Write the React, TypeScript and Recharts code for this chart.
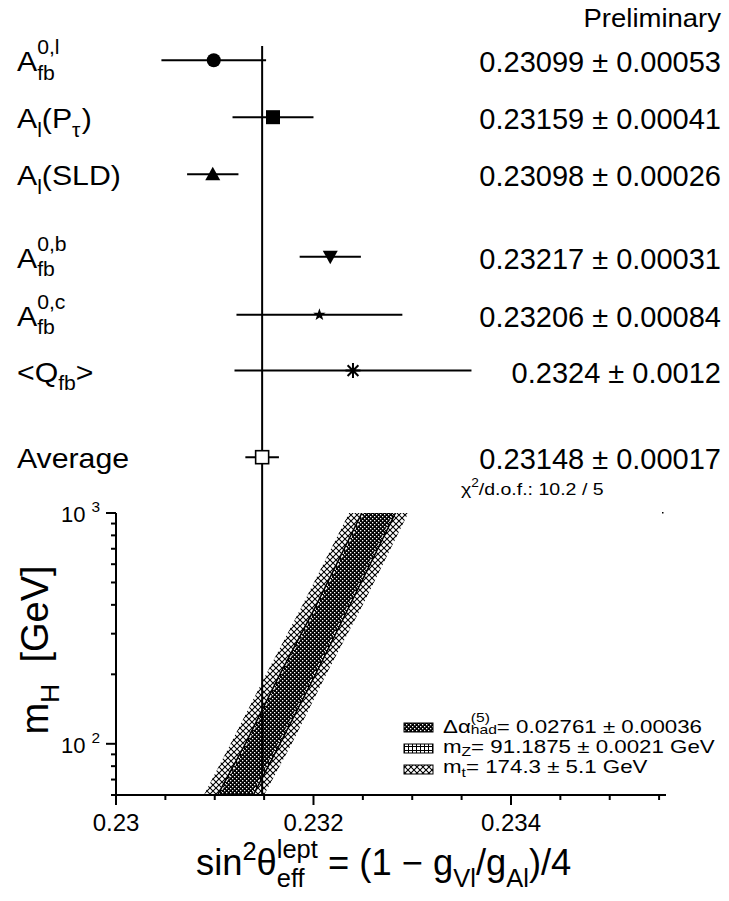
import React from 'react';
import { ComposedChart, Scatter, ErrorBar, XAxis, YAxis, ReferenceLine, Area } from 'recharts';

const FONT = '"Liberation Sans", Arial, Helvetica, sans-serif';
type Tok = [string, string, number?];

// ---------- measurements (upper panel) ----------
const measValues = [0.23099, 0.23159, 0.23098, 0.23217, 0.23206, 0.2324, 0.23148];
const measErrors = [0.00053, 0.00041, 0.00026, 0.00031, 0.00084, 0.0012, 0.00017];
const measValueTexts = [
  '0.23099 ± 0.00053',
  '0.23159 ± 0.00041',
  '0.23098 ± 0.00026',
  '0.23217 ± 0.00031',
  '0.23206 ± 0.00084',
  '0.2324 ± 0.0012',
  '0.23148 ± 0.00017',
];
const measRows = [1, 2, 3, 4.45, 5.47, 6.45, 7.97];
const measMarkers = ['circle', 'square', 'triangle', 'triangleDown', 'star', 'asterisk', 'openSquare'];
const measLabels: Tok[][] = [
  [['A', 'n'], ['fb', 'sub'], ['0,l', 'supStack']],
  [['A', 'n'], ['l', 'sub'], ['(P', 'n'], ['τ', 'sub'], [')', 'n']],
  [['A', 'n'], ['l', 'sub'], ['(SLD)', 'n']],
  [['A', 'n'], ['fb', 'sub'], ['0,b', 'supStack']],
  [['A', 'n'], ['fb', 'sub'], ['0,c', 'supStack']],
  [['<Q', 'n'], ['fb', 'sub'], ['>', 'n']],
  [['Average', 'n']],
];
const averageValue = 0.23148;
const chi2Tokens: Tok[] = [['χ', 'n'], ['2', 'sup', -0.45], ['/d.o.f.: 10.2 / 5', 'n']];
const prelimText = 'Preliminary';

// ---------- SM prediction bands (lower panel) ----------
const bandMH = [60, 100, 200, 400, 1000];
const mtLow = [0.23089, 0.23116, 0.23152, 0.23189, 0.23236];
const mtHigh = [0.2315, 0.23178, 0.23213, 0.2325, 0.23296];
const mzLow = [0.23103, 0.23131, 0.23166, 0.23203, 0.23249];
const mzHigh = [0.23139, 0.23166, 0.23202, 0.23237, 0.23283];
const daLow = [0.23105, 0.23133, 0.23168, 0.23205, 0.23251];
const daHigh = [0.23137, 0.23164, 0.232, 0.23235, 0.23281];

const legendTokens: Tok[][] = [
  [['Δα', 'n'], ['(5)', 'sup', -0.6], ['had', 'subStack', 0.08], ['= 0.02761 ± 0.00036', 'n']],
  [['m', 'n'], ['Z', 'sub', 0.15], ['= 91.1875 ± 0.0021 GeV', 'n']],
  [['m', 'n'], ['t', 'sub', 0.2], ['= 174.3 ± 5.1 GeV', 'n']],
];
const legendFills = ['url(#patDa)', 'url(#patMz)', 'url(#patMt)'];

// ---------- axes ----------
const X_DOMAIN: [number, number] = [0.23, 0.23557];
const xTickValues = [0.23, 0.2305, 0.231, 0.2315, 0.232, 0.2325, 0.233, 0.2335, 0.234, 0.2345, 0.235, 0.2355];
const xLabelValues = [0.23, 0.232, 0.234];
const xLabelTexts = ['0.23', '0.232', '0.234'];
const yTickValues = [60, 70, 80, 90, 100, 200, 300, 400, 500, 600, 700, 800, 900, 1000];
const yLabelValues = [100, 1000];
const yLabelTokens: Tok[][] = [
  [['10 ', 'n'], ['2', 'sup', -0.45]],
  [['10 ', 'n'], ['3', 'sup', -0.45]],
];
const xTitleTokens: Tok[] = [
  ['sin', 'n'], ['2', 'sup', -0.42], ['θ', 'n'], ['eff', 'sub', 0.32], ['lept', 'supStack', -0.47],
  [' = (1 − g', 'n'], ['Vl', 'sub', 0.32], ['/g', 'n'], ['Al', 'sub', 0.32], [')/4', 'n'],
];
const yTitleTokens: Tok[] = [['m', 'n'], ['H', 'sub', 0.3], ['  [GeV]', 'n']];

// ---------- layout constants ----------
const PLOT_LEFT = 116;
const RIGHT_MARGIN = 63;
const UPPER_TOP_LINE = 46;
const SPLIT_Y = 513;
const LOWER_TOP = 470;
const AXIS_Y = 795;

const CW: Record<string, number> = {
  A: 0.667, D: 0.722, G: 0.778, L: 0.556, P: 0.667, Q: 0.778, S: 0.667, V: 0.667, Z: 0.611, H: 0.722,
  a: 0.556, b: 0.556, c: 0.5, d: 0.556, e: 0.556, f: 0.278, g: 0.556, h: 0.556, i: 0.222, l: 0.222,
  m: 0.833, n: 0.556, o: 0.556, p: 0.556, r: 0.333, s: 0.5, t: 0.278, v: 0.5, y: 0.5,
  ' ': 0.278, '.': 0.278, ',': 0.278, ':': 0.278, '/': 0.278, '(': 0.333, ')': 0.333, '[': 0.278, ']': 0.278,
  '=': 0.584, '±': 0.584, '−': 0.584, '<': 0.584, '>': 0.584,
  'τ': 0.45, 'θ': 0.556, 'χ': 0.52, 'Δ': 0.668, 'α': 0.578,
};
const tw = (s: string) => Array.from(s).reduce((a, c) => a + (CW[c] ?? 0.556), 0);

function RichText({ x, y, size, tokens, anchor = 'start', sx = 1, rotate = 0, scr = 0.7 }: {
  x: number; y: number; size: number; tokens: Tok[]; anchor?: string; sx?: number; rotate?: number; scr?: number;
}) {
  let cx = 0;
  let prevStart = 0;
  const items: { t: string; x: number; y: number; fs: number }[] = [];
  for (const [t, k, d] of tokens) {
    const fs = k === 'n' ? size : size * scr;
    const w = tw(t) * fs;
    const stack = k === 'supStack' || k === 'subStack';
    const x0 = stack ? prevStart : cx;
    const dy = d !== undefined ? d * size : k.startsWith('sub') ? 0.3 * size : k.startsWith('sup') ? -0.6 * size : 0;
    items.push({ t, x: x0, y: dy, fs });
    if (stack) cx = Math.max(cx, x0 + w);
    else {
      prevStart = x0;
      cx = x0 + w;
    }
  }
  const single = tokens.length === 1;
  const off = single ? 0 : anchor === 'end' ? -cx : anchor === 'middle' ? -cx / 2 : 0;
  return (
    <g transform={`translate(${x},${y}) rotate(${rotate}) scale(${sx},1)`}>
      {items.map((it, i) => (
        <text
          key={i}
          x={it.x + off}
          y={it.y}
          fontSize={it.fs}
          fontFamily={FONT}
          fill="#000"
          textAnchor={single ? (anchor as any) : 'start'}
          style={{ whiteSpace: 'pre' }}
        >
          {it.t}
        </text>
      ))}
    </g>
  );
}

const MarkerShape = (props: any) => {
  const { cx, cy, payload } = props;
  if (cx == null || cy == null) return null;
  const m = payload.marker;
  if (m === 'circle') return <circle cx={cx} cy={cy} r={7} fill="#000" />;
  if (m === 'square') return <rect x={cx - 7} y={cy - 7} width={14} height={14} fill="#000" />;
  if (m === 'triangle') return <path d={`M${cx},${cy - 7.5} L${cx + 7.5},${cy + 6} L${cx - 7.5},${cy + 6} Z`} fill="#000" />;
  if (m === 'triangleDown') return <path d={`M${cx},${cy + 7.5} L${cx + 7.5},${cy - 6} L${cx - 7.5},${cy - 6} Z`} fill="#000" />;
  if (m === 'star') {
    const pts: string[] = [];
    for (let k = 0; k < 10; k++) {
      const r = k % 2 === 0 ? 6.5 : 2.6;
      const a = -Math.PI / 2 + (k * Math.PI) / 5;
      pts.push(`${cx + r * Math.cos(a)},${cy + r * Math.sin(a)}`);
    }
    return <polygon points={pts.join(' ')} fill="#000" />;
  }
  if (m === 'asterisk') {
    const r = 7.5;
    const d = r * 0.72;
    return (
      <path
        d={`M${cx - r},${cy} L${cx + r},${cy} M${cx},${cy - r} L${cx},${cy + r} M${cx - d},${cy - d} L${cx + d},${cy + d} M${cx - d},${cy + d} L${cx + d},${cy - d}`}
        stroke="#000"
        strokeWidth={2}
      />
    );
  }
  return <rect x={cx - 6.5} y={cy - 6.5} width={13} height={13} fill="#fff" stroke="#000" strokeWidth={1.6} />;
};

const MeasTick = (props: any) => {
  const { y, payload } = props;
  const i = measRows.findIndex((r) => Math.abs(r - payload.value) < 1e-9);
  if (i < 0) return null;
  return (
    <g>
      <RichText x={17} y={y + 11} size={28} sx={1.08} tokens={measLabels[i]} />
      <RichText x={721} y={y + 12} size={29} anchor="end" tokens={[[measValueTexts[i], 'n']]} />
    </g>
  );
};

const XTick = (props: any) => {
  const { x, payload } = props;
  const idx = xLabelValues.findIndex((l) => Math.abs(l - payload.value) < 1e-9);
  const major = idx >= 0;
  const ay = AXIS_Y - LOWER_TOP;
  return (
    <g>
      <line x1={x} x2={x} y1={ay} y2={ay + (major ? 10 : 5)} stroke="#000" strokeWidth={2} />
      {major && (
        <text x={x} y={ay + 36} textAnchor="middle" fontSize={24} fontFamily={FONT} fill="#000">
          {xLabelTexts[idx]}
        </text>
      )}
    </g>
  );
};

const YTick = (props: any) => {
  const { y, payload } = props;
  const idx = yLabelValues.indexOf(payload.value);
  const major = idx >= 0;
  return (
    <g>
      <line x1={PLOT_LEFT - (major ? 10 : 5)} x2={PLOT_LEFT} y1={y} y2={y} stroke="#000" strokeWidth={2} />
      {major && <RichText x={61} y={y + 9} size={22} tokens={yLabelTokens[idx]} />}
    </g>
  );
};

const measData = measValues.map((v, i) => ({ x: v, row: measRows[i], err: measErrors[i], marker: measMarkers[i] }));
const bandData = bandMH.map((mh, i) => ({
  mh,
  mt: [mtLow[i], mtHigh[i]],
  mz: [mzLow[i], mzHigh[i]],
  da: [daLow[i], daHigh[i]],
}));

function Patterns() {
  return (
    <svg width={0} height={0} style={{ position: 'absolute' }}>
      <defs>
        <pattern id="patMt" width="6" height="6" patternUnits="userSpaceOnUse">
          <rect width="6" height="6" fill="#fff" />
          <path d="M0,0 L6,6 M6,0 L0,6" stroke="#000" strokeWidth="1.05" />
          <path d="M-1,5 L1,7 M5,-1 L7,1 M-1,1 L1,-1 M5,7 L7,5" stroke="#000" strokeWidth="1.05" />
        </pattern>
        <pattern id="patMz" width="4" height="4" patternUnits="userSpaceOnUse">
          <rect width="4" height="4" fill="#fff" />
          <path d="M0,0.5 H4 M0.5,0 V4" stroke="#000" strokeWidth="1" />
        </pattern>
        <pattern id="patDa" width="4" height="4" patternUnits="userSpaceOnUse">
          <rect width="4" height="4" fill="#000" />
          <rect x="0" y="0" width="1.3" height="1.3" fill="#fff" />
          <rect x="2" y="2" width="1.3" height="1.3" fill="#fff" />
        </pattern>
      </defs>
    </svg>
  );
}

function UpperChart() {
  return (
    <ComposedChart
      width={729}
      height={SPLIT_Y}
      margin={{ top: UPPER_TOP_LINE, right: RIGHT_MARGIN, bottom: 0, left: 0 }}
    >
      <XAxis type="number" dataKey="x" domain={X_DOMAIN} allowDataOverflow hide />
      <YAxis
        type="number"
        dataKey="row"
        domain={[0.75, 8.95]}
        reversed
        allowDataOverflow
        ticks={measRows}
        interval={0}
        width={PLOT_LEFT}
        axisLine={false}
        tickLine={false}
        tick={(p: any) => <MeasTick {...p} />}
      />
      <ReferenceLine x={averageValue} stroke="#000" strokeWidth={2} />
      <Scatter data={measData} isAnimationActive={false} shape={(p: any) => <MarkerShape {...p} />}>
        <ErrorBar dataKey="err" direction="x" width={0} stroke="#000" strokeWidth={2} isAnimationActive={false} />
      </Scatter>
      <RichText x={721} y={27} size={25} sx={1.1} anchor="end" tokens={[[prelimText, 'n']]} />
      <RichText x={461} y={495} size={17} sx={1.15} tokens={chi2Tokens} />
    </ComposedChart>
  );
}

function LowerChart() {
  const L = (v: number) => v - LOWER_TOP;
  return (
    <ComposedChart
      layout="vertical"
      width={729}
      height={901 - LOWER_TOP}
      data={bandData}
      margin={{ top: SPLIT_Y - LOWER_TOP, right: RIGHT_MARGIN, bottom: 901 - AXIS_Y - 40, left: 0 }}
    >
      <XAxis
        type="number"
        domain={X_DOMAIN}
        allowDataOverflow
        ticks={xTickValues}
        interval={0}
        height={40}
        tickLine={false}
        axisLine={{ stroke: '#000', strokeWidth: 2 }}
        tick={(p: any) => <XTick {...p} />}
      />
      <YAxis
        type="number"
        dataKey="mh"
        scale="log"
        domain={[60, 1000]}
        reversed
        allowDataOverflow
        ticks={yTickValues}
        interval={0}
        width={PLOT_LEFT}
        tickLine={false}
        axisLine={{ stroke: '#000', strokeWidth: 2 }}
        tick={(p: any) => <YTick {...p} />}
      />
      <Area type="linear" dataKey="mt" fill="url(#patMt)" fillOpacity={1} stroke="none" dot={false} activeDot={false} isAnimationActive={false} />
      <Area type="linear" dataKey="mz" fill="url(#patMz)" fillOpacity={1} stroke="#000" strokeWidth={1.6} dot={false} activeDot={false} isAnimationActive={false} />
      <Area type="linear" dataKey="da" fill="url(#patDa)" fillOpacity={1} stroke="none" dot={false} activeDot={false} isAnimationActive={false} />
      <ReferenceLine x={averageValue} stroke="#000" strokeWidth={2} />
      {legendTokens.map((tk, i) => (
        <g key={i}>
          <rect x={404} y={L(723 + i * 21)} width={29} height={9} fill={legendFills[i]} stroke="#000" strokeWidth={1} />
          <RichText x={443} y={L(733 + i * 20)} size={18} sx={1.24} tokens={tk} />
        </g>
      ))}
      <RichText x={196} y={L(875)} size={36} sx={1.01} tokens={xTitleTokens} />
      <RichText x={48} y={L(650)} size={38} rotate={-90} anchor="middle" tokens={yTitleTokens} />
      <rect x={662} y={L(512)} width={1.5} height={1.5} fill="#000" />
    </ComposedChart>
  );
}

export default function App() {
  return (
    <div style={{ position: 'absolute', left: 0, top: 0, width: 729, height: 901, background: '#fff', overflow: 'hidden' }}>
      <Patterns />
      <div style={{ position: 'absolute', left: 0, top: 0 }}>
        <UpperChart />
      </div>
      <div style={{ position: 'absolute', left: 0, top: LOWER_TOP }}>
        <LowerChart />
      </div>
    </div>
  );
}
